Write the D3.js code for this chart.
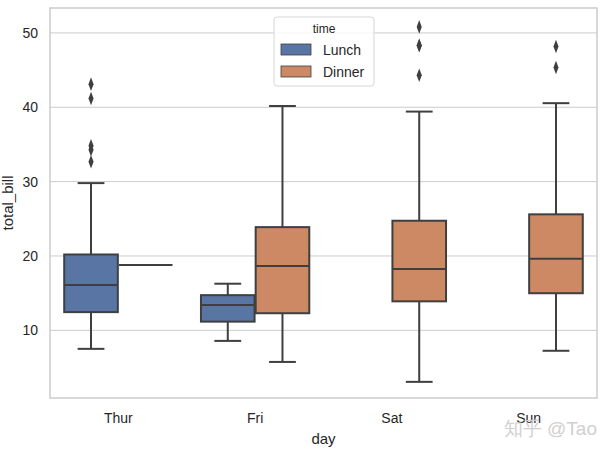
<!DOCTYPE html>
<html>
<head>
<meta charset="utf-8">
<script src="https://cdn.jsdelivr.net/npm/d3@7"></script>
<style>
  body { margin: 0; background: #fff; }
  text { font-family: "Liberation Sans", Arial, sans-serif; fill: #262626; }
</style>
</head>
<body>
<div class="canvas"></div>
<script>
const days = ["Thur", "Fri", "Sat", "Sun"];
const times = ["Lunch", "Dinner"];
const yTicks = [10, 20, 30, 40, 50];

// one entry per box: [day, time, low whisker, q1, median, q3, high whisker]
const boxDay = ["Thur", "Thur", "Fri", "Fri", "Sat", "Sun"];
const boxTime = ["Lunch", "Dinner", "Lunch", "Dinner", "Dinner", "Dinner"];
const whiskLow = [7.51, 18.78, 8.58, 5.75, 3.07, 7.25];
const q1 = [12.45, 18.78, 11.17, 12.3, 13.9, 14.99];
const median = [16.1, 18.78, 13.42, 18.66, 18.24, 19.63];
const q3 = [20.2, 18.78, 14.73, 23.88, 24.74, 25.6];
const whiskHigh = [29.8, 18.78, 16.27, 40.17, 39.42, 40.55];
const outliers = [
  [32.68, 34.3, 34.83, 41.19, 43.11],
  [],
  [],
  [],
  [44.3, 48.27, 48.33, 50.81],
  [45.35, 48.17]
];

const width = 612, height = 454;
const margin = { top: 8, right: 15, bottom: 56, left: 50 };
const colors = d3.scaleOrdinal().domain(times).range(["#5875a4", "#cc8963"]);
const lineColor = "#3f3f3f";

const svg = d3.select(".canvas").append("svg")
  .attr("width", width).attr("height", height);

const x = d3.scaleBand().domain(days)
  .range([margin.left, width - margin.right]).paddingInner(0).paddingOuter(0);
const hue = d3.scaleBand().domain(times).range([0, x.bandwidth() * 0.8]);
const y = d3.scaleLinear().domain([0.9, 53.35])
  .range([height - margin.bottom, margin.top]);

// grid
svg.append("g").selectAll("line").data(yTicks).enter().append("line")
  .attr("x1", margin.left).attr("x2", width - margin.right)
  .attr("y1", d => y(d)).attr("y2", d => y(d))
  .attr("stroke", "#cccccc").attr("stroke-width", 1);

// frame
svg.append("rect")
  .attr("x", margin.left).attr("y", margin.top)
  .attr("width", width - margin.left - margin.right)
  .attr("height", height - margin.top - margin.bottom)
  .attr("fill", "none").attr("stroke", "#cccccc").attr("stroke-width", 1.5);

// y tick labels
svg.append("g").selectAll("text").data(yTicks).enter().append("text")
  .attr("x", margin.left - 12).attr("y", d => y(d)).attr("dy", "0.36em")
  .attr("text-anchor", "end").attr("font-size", 14).text(d => d);

// x tick labels
svg.append("g").selectAll("text").data(days).enter().append("text")
  .attr("x", d => x(d) + x.bandwidth() / 2).attr("y", height - margin.bottom + 25)
  .attr("text-anchor", "middle").attr("font-size", 14).text(d => d);

svg.append("text").attr("x", (margin.left + width - margin.right) / 2)
  .attr("y", height - 10).attr("text-anchor", "middle")
  .attr("font-size", 15).text("day");

svg.append("text")
  .attr("transform", `translate(13, ${(margin.top + height - margin.bottom) / 2}) rotate(-90)`)
  .attr("text-anchor", "middle").attr("font-size", 15).text("total_bill");

// boxes
const boxes = boxDay.map((d, i) => ({
  day: d, time: boxTime[i], lo: whiskLow[i], q1: q1[i], med: median[i],
  q3: q3[i], hi: whiskHigh[i], out: outliers[i]
}));

const bw = hue.bandwidth() * 0.98;
const g = svg.append("g").selectAll("g").data(boxes).enter().append("g")
  .attr("transform", d => `translate(${x(d.day) + x.bandwidth() * 0.1 + hue(d.time) + hue.bandwidth() / 2}, 0)`);

const lw = 2;
g.append("line").attr("x1", 0).attr("x2", 0)
  .attr("y1", d => y(d.lo)).attr("y2", d => y(d.q1))
  .attr("stroke", lineColor).attr("stroke-width", lw);
g.append("line").attr("x1", 0).attr("x2", 0)
  .attr("y1", d => y(d.hi)).attr("y2", d => y(d.q3))
  .attr("stroke", lineColor).attr("stroke-width", lw);
g.filter(d => d.hi !== d.q3).append("line").attr("x1", -bw / 4).attr("x2", bw / 4)
  .attr("y1", d => y(d.hi)).attr("y2", d => y(d.hi))
  .attr("stroke", lineColor).attr("stroke-width", lw);
g.filter(d => d.lo !== d.q1).append("line").attr("x1", -bw / 4).attr("x2", bw / 4)
  .attr("y1", d => y(d.lo)).attr("y2", d => y(d.lo))
  .attr("stroke", lineColor).attr("stroke-width", lw);
g.append("rect").attr("x", -bw / 2).attr("width", bw)
  .attr("y", d => y(d.q3)).attr("height", d => y(d.q1) - y(d.q3))
  .attr("fill", d => colors(d.time))
  .attr("stroke", lineColor).attr("stroke-width", lw);
g.append("line").attr("x1", -bw / 2).attr("x2", bw / 2)
  .attr("y1", d => y(d.med)).attr("y2", d => y(d.med))
  .attr("stroke", lineColor).attr("stroke-width", lw);

const diamond = d3.symbol().type(d3.symbolDiamond).size(40);
g.selectAll("path.flier").data(d => d.out).enter().append("path")
  .attr("class", "flier")
  .attr("d", diamond)
  .attr("transform", v => `translate(0, ${y(v)}) scale(0.75, 1.15)`)
  .attr("fill", lineColor);

// legend
const lg = svg.append("g").attr("transform", "translate(274, 17)");
lg.append("rect").attr("width", 100).attr("height", 69).attr("rx", 3)
  .attr("fill", "#fff").attr("fill-opacity", 0.8)
  .attr("stroke", "#d6d6d6").attr("stroke-width", 1);
lg.append("text").attr("x", 50).attr("y", 16).attr("text-anchor", "middle")
  .attr("font-size", 12).text("time");
const li = lg.selectAll("g.item").data(times).enter().append("g")
  .attr("class", "item")
  .attr("transform", (d, i) => `translate(7, ${27 + i * 22})`);
li.append("rect").attr("width", 30).attr("height", 11)
  .attr("fill", d => colors(d)).attr("stroke", lineColor).attr("stroke-width", 0.8);
li.append("text").attr("x", 42).attr("y", 6).attr("dy", "0.36em")
  .attr("font-size", 14).text(d => d);

// watermark
svg.append("text").attr("x", 597).attr("y", 435).attr("text-anchor", "end")
  .attr("font-family", "Noto Sans CJK SC").attr("font-size", 19)
  .attr("font-weight", 300)
  .style("fill", "#d0d0d0").text("知乎 @Tao");
</script>
</body>
</html>
